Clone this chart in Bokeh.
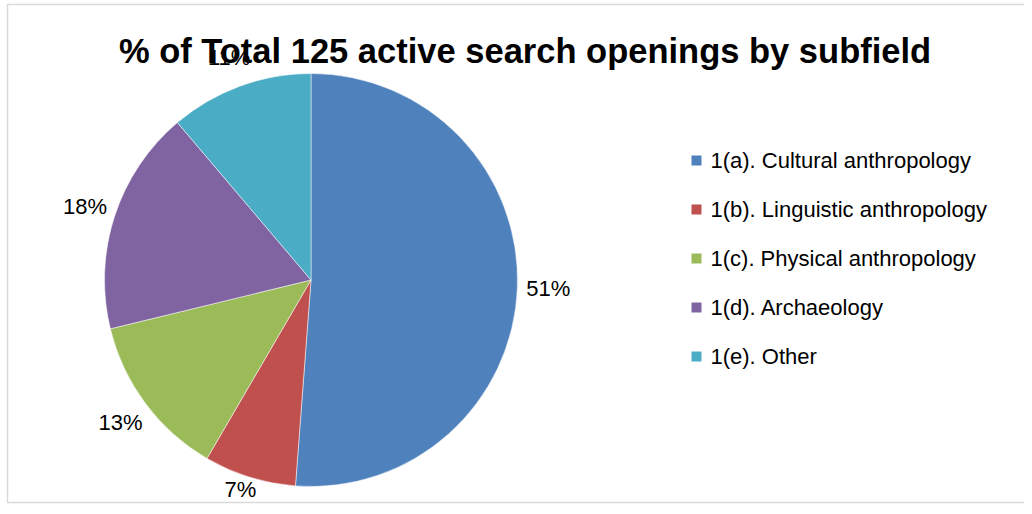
import numpy as np
from bokeh.plotting import figure
from bokeh.models import ColumnDataSource, BoxAnnotation
from bokeh.core.properties import value
from bokeh.embed import file_html
from bokeh.resources import INLINE

# ---- data ----
title = "% of Total 125 active search openings by subfield"
categories = ["1(a). Cultural anthropology", "1(b). Linguistic anthropology",
              "1(c). Physical anthropology", "1(d). Archaeology", "1(e). Other"]
counts = [64, 9, 16, 22, 14]
colors = ["#4F81BD", "#C0504D", "#9BBB59", "#8064A2", "#4BACC6"]

W, H = 1024, 506
FONT = "Liberation Sans"

p = figure(width=W, height=H, x_range=(0, W), y_range=(0, H),
           x_axis_type=None, y_axis_type=None, min_border=0,
           toolbar_location=None, output_backend="svg")
p.grid.visible = False
p.outline_line_color = None
p.background_fill_color = "white"

# border frame
p.add_layout(BoxAnnotation(left=7, right=1040, bottom=4, top=502,
                           fill_color=None, line_color="#868686", line_width=1.5))

cx, cy, r = 310.5, 226.5, 206.5
vals = np.array(counts, dtype=float)
frac = vals / vals.sum()
cum = np.concatenate([[0], np.cumsum(frac)])
# clockwise from 12 o'clock
start = np.pi / 2 - cum[:-1] * 2 * np.pi
end = np.pi / 2 - cum[1:] * 2 * np.pi
mid = (start + end) / 2
pct = [f"{int(round(f * 100))}%" for f in frac]
lx = cx + (r + 31) * np.cos(mid)
ly = np.maximum(cy + (r + 31) * np.sin(mid), 17)

src = ColumnDataSource(dict(start=end, end=start, color=colors, cat=categories,
                            lx=lx, ly=ly, pct=pct))
p.wedge(x=cx, y=cy, radius=r, start_angle="start", end_angle="end",
        fill_color="color", line_color="white", line_width=0.5, source=src)

p.text(x="lx", y="ly", text="pct", source=src, text_align="center",
       text_baseline="middle", text_font=value(FONT), text_font_size="22px",
       text_color="#000000")

# title
p.text(x=[524.5], y=[456], text=[title], text_align="center",
       text_baseline="alphabetic", text_font=value(FONT), text_font_size="34.5px",
       text_font_style="bold", text_color="#000000")

# legend
n = len(categories)
ly0, step = 346, 49
leg = ColumnDataSource(dict(y=[ly0 - i * step for i in range(n)],
                            color=colors, cat=categories))
p.rect(x=696, y="y", width=10, height=10, fill_color="color", line_color=None, source=leg)
p.text(x=710, y="y", text="cat", source=leg, text_align="left",
       text_baseline="middle", text_font=value(FONT), text_font_size="22px",
       text_color="#000000")

open("out.html", "w").write(file_html(p, INLINE))
